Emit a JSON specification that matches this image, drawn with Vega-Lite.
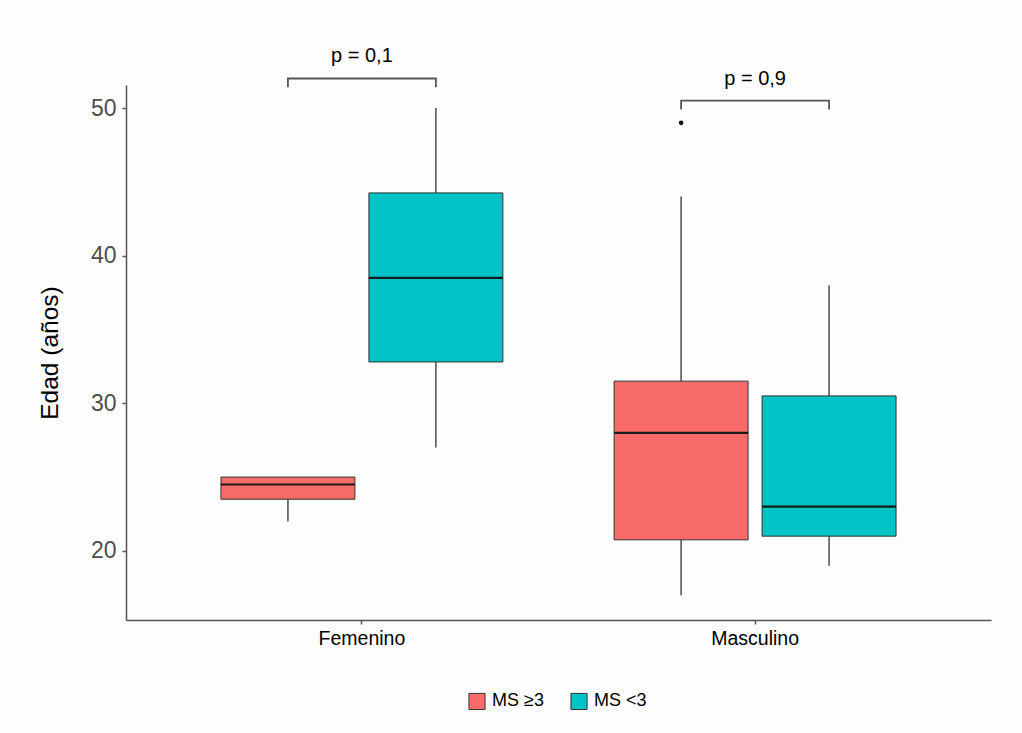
{
  "$schema": "https://vega.github.io/schema/vega-lite/v6.json",
  "width": 865,
  "height": 535,
  "autosize": {"type": "none"},
  "padding": {"left": 126, "top": 85, "right": 31, "bottom": 113},
  "background": "#fdfdfd",
  "config": {"view": {"stroke": null}, "font": "Liberation Sans"},
  "datasets": {
    "boxes": [
      {"sexo": "Femenino", "grupo": "MS ≥3", "min": 22, "q1": 23.5, "median": 24.5, "q3": 25, "max": 25},
      {"sexo": "Femenino", "grupo": "MS <3", "min": 27, "q1": 32.8, "median": 38.5, "q3": 44.25, "max": 50},
      {"sexo": "Masculino", "grupo": "MS ≥3", "min": 17, "q1": 20.75, "median": 28, "q3": 31.5, "max": 44},
      {"sexo": "Masculino", "grupo": "MS <3", "min": 19, "q1": 21, "median": 23, "q3": 30.5, "max": 38}
    ],
    "outliers": [
      {"sexo": "Masculino", "grupo": "MS ≥3", "edad": 49}
    ],
    "brackets": [
      {"sexo": "Femenino", "grupo": "MS ≥3", "edad": 51.4, "orden": 1},
      {"sexo": "Femenino", "grupo": "MS ≥3", "edad": 52.0, "orden": 2},
      {"sexo": "Femenino", "grupo": "MS <3", "edad": 52.0, "orden": 3},
      {"sexo": "Femenino", "grupo": "MS <3", "edad": 51.4, "orden": 4},
      {"sexo": "Masculino", "grupo": "MS ≥3", "edad": 49.9, "orden": 1},
      {"sexo": "Masculino", "grupo": "MS ≥3", "edad": 50.5, "orden": 2},
      {"sexo": "Masculino", "grupo": "MS <3", "edad": 50.5, "orden": 3},
      {"sexo": "Masculino", "grupo": "MS <3", "edad": 49.9, "orden": 4}
    ],
    "pvals": [
      {"sexo": "Femenino", "label": "p = 0,1", "edad": 53.5},
      {"sexo": "Masculino", "label": "p = 0,9", "edad": 52.0}
    ]
  },
  "encoding": {
    "x": {
      "field": "sexo",
      "type": "nominal",
      "title": null,
      "scale": {"domain": ["Femenino", "Masculino"], "paddingInner": 0, "paddingOuter": 0.1},
      "axis": {
        "labelAngle": 0,
        "labelFontSize": 19.5,
        "labelColor": "#000000",
        "labelPadding": 5,
        "tickColor": "#555555",
        "tickSize": 4,
        "tickWidth": 1.5,
        "domainColor": "#555555",
        "domainWidth": 1.5,
        "grid": false
      }
    }
  },
  "layer": [
    {
      "data": {"name": "boxes"},
      "mark": {"type": "rule", "color": "#4d4d4d", "strokeWidth": 1.5},
      "encoding": {
        "xOffset": {"field": "grupo", "type": "nominal", "scale": {"domain": ["MS ≥3", "MS <3"], "paddingInner": 0.0946, "paddingOuter": 0.376}},
        "y": {
          "field": "min",
          "type": "quantitative",
          "title": "Edad (años)",
          "scale": {"domain": [15.32, 51.56], "nice": false, "zero": false},
          "axis": {
            "values": [20, 30, 40, 50],
            "labelFontSize": 23,
            "labelColor": "#4d4d4d",
            "labelPadding": 6,
            "tickColor": "#555555",
            "tickSize": 4,
            "tickWidth": 1.5,
            "domainColor": "#555555",
            "domainWidth": 1.5,
            "grid": false,
            "titleFontSize": 24.5,
            "titleFontWeight": "normal",
            "titleColor": "#000000",
            "titlePadding": 28
          }
        },
        "y2": {"field": "q1"}
      }
    },
    {
      "data": {"name": "boxes"},
      "mark": {"type": "rule", "color": "#4d4d4d", "strokeWidth": 1.5},
      "encoding": {
        "xOffset": {"field": "grupo", "type": "nominal"},
        "y": {"field": "q3", "type": "quantitative"},
        "y2": {"field": "max"}
      }
    },
    {
      "data": {"name": "boxes"},
      "mark": {"type": "bar", "stroke": "#333333", "strokeWidth": 1, "opacity": 1},
      "encoding": {
        "xOffset": {"field": "grupo", "type": "nominal"},
        "y": {"field": "q1", "type": "quantitative"},
        "y2": {"field": "q3"},
        "color": {
          "field": "grupo",
          "type": "nominal",
          "scale": {"domain": ["MS ≥3", "MS <3"], "range": ["#F96B69", "#00C3C6"]},
          "legend": {
            "orient": "none",
            "legendX": 342,
            "legendY": 607,
            "direction": "horizontal",
            "title": null,
            "symbolType": "square",
            "symbolSize": 260,
            "symbolStrokeColor": "#333333",
            "symbolStrokeWidth": 1,
            "symbolOpacity": 1,
            "labelFontSize": 18,
            "labelColor": "#000000",
            "labelOffset": 6,
            "columnPadding": 24
          }
        }
      }
    },
    {
      "data": {"name": "boxes"},
      "mark": {"type": "tick", "color": "#1a1a1a", "thickness": 2.2, "size": 134, "opacity": 1},
      "encoding": {
        "xOffset": {"field": "grupo", "type": "nominal"},
        "y": {"field": "median", "type": "quantitative"}
      }
    },
    {
      "data": {"name": "outliers"},
      "mark": {"type": "point", "filled": true, "color": "#111111", "size": 22, "opacity": 1},
      "encoding": {
        "xOffset": {"field": "grupo", "type": "nominal"},
        "y": {"field": "edad", "type": "quantitative"}
      }
    },
    {
      "data": {"name": "brackets"},
      "mark": {"type": "line", "color": "#555555", "strokeWidth": 1.8},
      "encoding": {
        "xOffset": {"field": "grupo", "type": "nominal"},
        "y": {"field": "edad", "type": "quantitative"},
        "detail": {"field": "sexo"},
        "order": {"field": "orden", "type": "quantitative"}
      }
    },
    {
      "data": {"name": "pvals"},
      "mark": {"type": "text", "fontSize": 20, "color": "#000000", "baseline": "middle"},
      "encoding": {
        "y": {"field": "edad", "type": "quantitative"},
        "text": {"field": "label"}
      }
    }
  ]
}
